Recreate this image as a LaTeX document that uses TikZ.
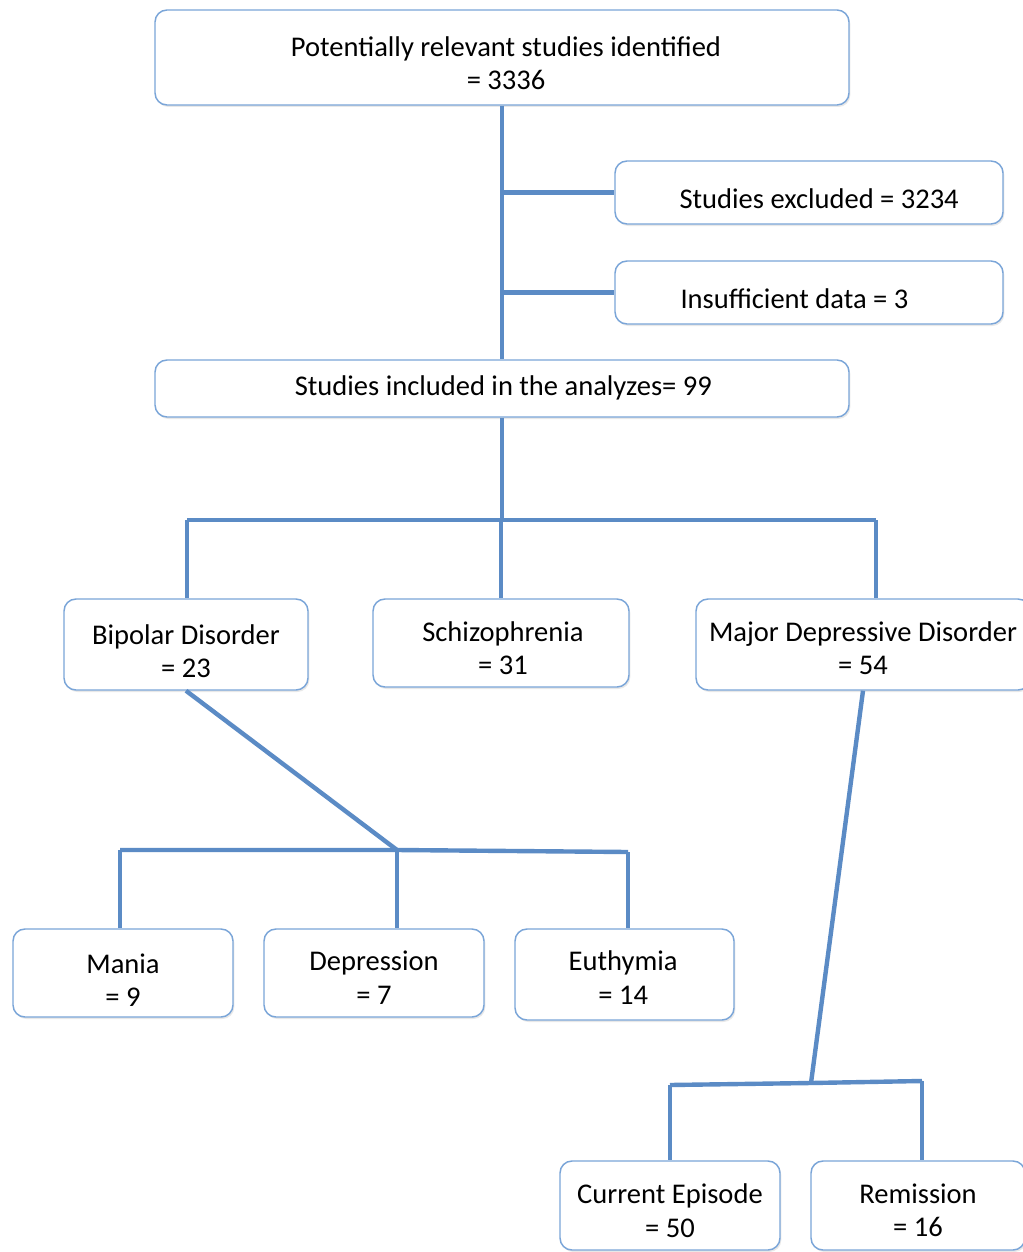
\documentclass[tikz,border=0pt]{standalone}
\usepackage{fontspec}
\setmainfont{Carlito}
\usetikzlibrary{shadows}
\definecolor{linec}{HTML}{5B8BC5}
\definecolor{boxc}{HTML}{7AA5D8}
\begin{document}
\begin{tikzpicture}[x=0.75pt,y=-0.75pt,
  box/.style={draw=boxc, line width=1.1pt, rounded corners=9pt, fill=white,
    inner sep=0pt,
    drop shadow={opacity=0.18, shadow xshift=1pt, shadow yshift=-1.5pt}},
  txt/.style={align=center, inner sep=0pt,
    font=\fontsize{21.4}{25}\selectfont},
  conn/.style={draw=linec, line width=3.3pt}]
\useasboundingbox (0,0) rectangle (1023,1252);
\clip (0,0) rectangle (1023,1252);
\fill[white] (0,0) rectangle (1023,1252);

% boxes
\node[box, minimum width=520.5pt, minimum height=71.25pt] (top) at (502,57.5) {};
\node[box, minimum width=291pt, minimum height=47.25pt] (excl) at (809,192.5) {};
\node[box, minimum width=291pt, minimum height=47.25pt] (ins) at (809,292.5) {};
\node[box, minimum width=520.5pt, minimum height=42.75pt] (incl) at (502,388.5) {};
\node[box, minimum width=183pt, minimum height=68.25pt] (bip) at (186,644.5) {};
\node[box, minimum width=192pt, minimum height=66pt] (schz) at (501,643) {};
\node[box, minimum width=250.5pt, minimum height=68.25pt] (mdd) at (863,644.5) {};
\node[box, minimum width=165pt, minimum height=66pt] (mania) at (123,973) {};
\node[box, minimum width=165pt, minimum height=66pt] (dep) at (374,973) {};
\node[box, minimum width=164.25pt, minimum height=68.25pt] (euth) at (624.5,974.5) {};
\node[box, minimum width=165pt, minimum height=66.75pt] (cur) at (670,1205.5) {};
\node[box, minimum width=160.5pt, minimum height=66.75pt] (rem) at (918,1205.5) {};

% texts
\node[txt] (topT) at ([xshift=3pt,yshift=-4.1pt]top.center) {Potentially relevant studies identified\\= 3336};
\node[txt, anchor=west] (exclT) at ([xshift=48.75pt,yshift=-4.9pt]excl.west) {Studies excluded = 3234};
\node[txt, anchor=west] (insT) at ([xshift=49.5pt,yshift=-4.9pt]ins.west) {Insufficient data = 3};
\node[txt] (inclT) at ([xshift=1pt,yshift=0.8pt]incl.center) {Studies included in the analyzes= 99};
\node[txt] (bipT) at ([yshift=-5.2pt]bip.center) {Bipolar Disorder\\= 23};
\node[txt] (schzT) at ([xshift=1.5pt,yshift=-4.1pt]schz.center) {Schizophrenia\\= 31};
\node[txt] (mddT) at ([yshift=-3pt]mdd.center) {Major Depressive Disorder\\= 54};
\node[txt] (maniaT) at ([yshift=-5.6pt]mania.center) {Mania\\= 9};
\node[txt] (depT) at ([yshift=-3.4pt]dep.center) {Depression\\= 7};
\node[txt] (euthT) at ([xshift=-1pt,yshift=-2.2pt]euth.center) {Euthymia\\= 14};
\node[txt] (curT) at ([yshift=-3.8pt]cur.center) {Current Episode\\= 50};
\node[txt] (remT) at ([yshift=-3.8pt]rem.center) {Remission\\= 16};

% connectors
\draw[conn] (top.south) -- (incl.north);
\draw[conn] (top.south |- excl.west) -- (excl.west);
\draw[conn] (top.south |- ins.west) -- (ins.west);

\coordinate (h1L) at (187,520);
\coordinate (h1R) at (876,520);
\draw[conn] (incl.south) -- (incl.south |- h1L);
\draw[conn] (h1L) -- (h1R);
\draw[conn] (h1L) -- (h1L |- bip.north);
\draw[conn] (schz.north |- h1L) -- (schz.north);
\draw[conn] (h1R) -- (h1R |- mdd.north);

\coordinate (j2) at (397,850);
\coordinate (h2L) at (120,850);
\coordinate (h2R) at (628,852);
\draw[conn] (bip.south) -- (j2);
\draw[conn] (h2L) -- (j2) -- (h2R);
\draw[conn] (h2L) -- (h2L |- mania.north);
\draw[conn] (j2) -- (j2 |- dep.north);
\draw[conn] (h2R) -- (h2R |- euth.north);

\coordinate (j3) at (811,1083);
\coordinate (h3L) at (670,1085);
\coordinate (h3R) at (922,1081);
\draw[conn] (mdd.south) -- (j3);
\draw[conn] (h3L) -- (j3) -- (h3R);
\draw[conn] (h3L) -- (h3L |- cur.north);
\draw[conn] (h3R) -- (h3R |- rem.north);
\end{tikzpicture}
\end{document}
